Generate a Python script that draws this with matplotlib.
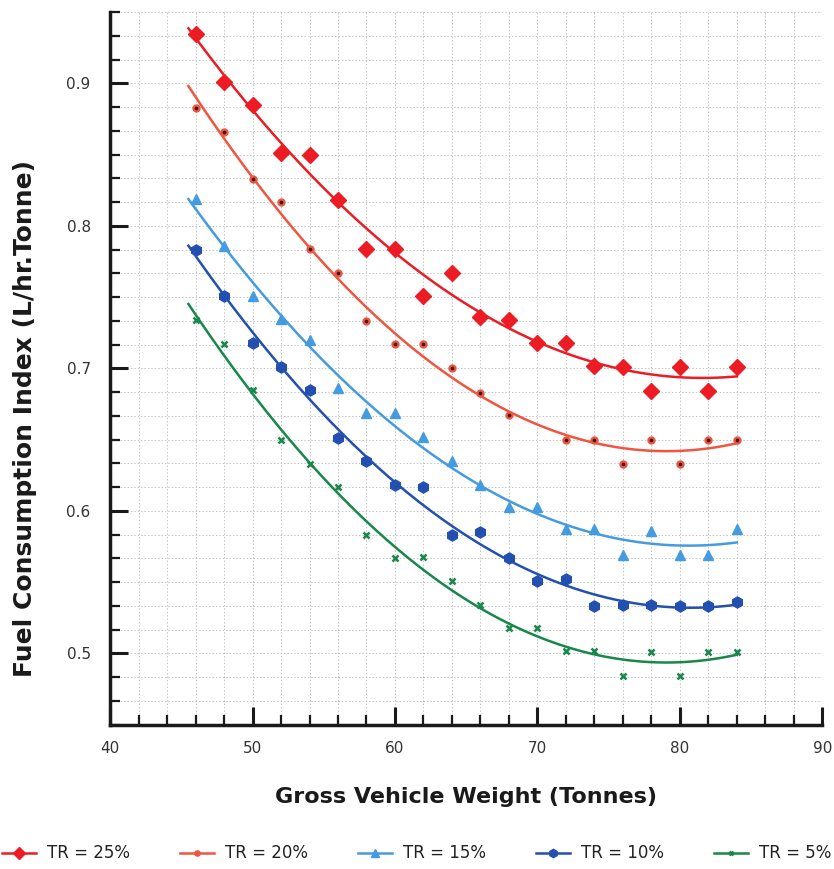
import numpy as np
import matplotlib
matplotlib.use("Agg")
import matplotlib.pyplot as plt
from matplotlib.ticker import MultipleLocator

# Gross vehicle weight (tonnes)
weights = np.array([46, 48, 50, 52, 54, 56, 58, 60, 62, 64,
                    66, 68, 70, 72, 74, 76, 78, 80, 82, 84])

# Fuel consumption index (L/hr.Tonne) for each tyre rolling case
tr25 = [0.935, 0.901, 0.885, 0.851, 0.850, 0.818, 0.784, 0.784, 0.751, 0.767,
        0.736, 0.734, 0.718, 0.718, 0.702, 0.701, 0.684, 0.701, 0.684, 0.701]
tr20 = [0.883, 0.866, 0.833, 0.817, 0.784, 0.767, 0.733, 0.717, 0.717, 0.700,
        0.683, 0.667, np.nan, 0.650, 0.650, 0.633, 0.650, 0.633, 0.650, 0.650]
tr15 = [0.819, 0.786, 0.751, 0.735, 0.720, 0.686, 0.669, 0.669, 0.652, 0.635,
        0.618, 0.603, 0.603, 0.587, 0.587, 0.569, 0.586, 0.569, 0.569, 0.587]
tr10 = [0.783, 0.751, 0.718, 0.701, 0.685, 0.651, 0.635, 0.618, 0.617, 0.583,
        0.585, 0.567, 0.551, 0.552, 0.533, 0.534, 0.534, 0.533, 0.533, 0.536]
tr5 = [0.734, 0.717, 0.685, 0.650, 0.633, 0.617, 0.583, 0.567, 0.568, 0.551,
       0.534, 0.518, 0.518, 0.502, 0.502, 0.484, 0.501, 0.484, 0.501, 0.501]

labels = ["TR = 25%", "TR = 20%", "TR = 15%", "TR = 10%", "TR = 5%"]
series = [tr25, tr20, tr15, tr10, tr5]

colors = ["#ec1c24", "#f0553f", "#459be0", "#2350b0", "#17884a"]
markers = ["D", "o", "^", "h", "x"]
msizes = [8, 5, 7, 8, 4]

fig = plt.figure(figsize=(8.34, 8.69), dpi=100)
ax = fig.add_axes([0.132, 0.166, 0.854, 0.820])

xfit = np.linspace(45.5, 84, 200)
handles = []
for vals, lab, c, m, ms in zip(series, labels, colors, markers, msizes):
    y = np.array(vals, dtype=float)
    ok = ~np.isnan(y)
    coef = np.polyfit(weights[ok], y[ok], 2)
    ax.plot(xfit, np.polyval(coef, xfit), color=c, lw=1.8, zorder=3)
    mew = 1.8 if m == "x" else 1.0
    ax.plot(weights, y, ls="none", marker=m, ms=ms, color=c, mec=c, mew=mew, zorder=4)
    if m == "o":
        ax.plot(weights, y, ls="none", marker="o", ms=1.6, color="#3a1a1a", zorder=5)
    h, = ax.plot([], [], color=c, lw=1.8, marker=m, ms=ms * 0.75, mec=c, mew=mew)
    handles.append(h)

ax.set_xlim(40, 90)
ax.set_ylim(0.45, 0.95)
ax.xaxis.set_major_locator(MultipleLocator(10))
ax.xaxis.set_minor_locator(MultipleLocator(2))
ax.yaxis.set_major_locator(MultipleLocator(0.1))
ax.yaxis.set_minor_locator(MultipleLocator(1 / 60))
ax.yaxis.set_major_formatter(matplotlib.ticker.FormatStrFormatter("%.1f"))

ax.grid(which="both", color="#c4c4c4", ls=(0, (1.5, 2)), lw=0.7, zorder=0)
ax.set_axisbelow(True)

for s in ["top", "right"]:
    ax.spines[s].set_visible(False)
for s in ["left", "bottom"]:
    ax.spines[s].set_linewidth(2.5)
    ax.spines[s].set_color("#1a1a1a")

ax.tick_params(which="major", direction="in", length=13, width=2.2,
               color="#1a1a1a", labelsize=11, labelcolor="#333333", pad=12)
ax.tick_params(which="minor", direction="in", length=7, width=1.6, color="#1a1a1a")
ax.tick_params(axis="y", which="both", pad=14)
ax.yaxis.set_ticks([0.5, 0.6, 0.7, 0.8, 0.9])

ax.set_xlabel("Gross Vehicle Weight (Tonnes)", fontsize=16, fontweight="bold",
              color="#1a1a1a")
ax.set_ylabel("Fuel Consumption Index (L/hr.Tonne)", fontsize=18, fontweight="bold",
              color="#1a1a1a")
ax.xaxis.set_label_coords(0.5, -0.087)
ax.yaxis.set_label_coords(-0.103, 0.43)

fig.legend(handles, labels, loc="center", bbox_to_anchor=(0.5, 0.018), ncol=5,
           frameon=False, fontsize=12, handlelength=2.0, columnspacing=3.0,
           handletextpad=0.7, labelcolor="#222222")

fig.savefig("out.png", dpi=100)
